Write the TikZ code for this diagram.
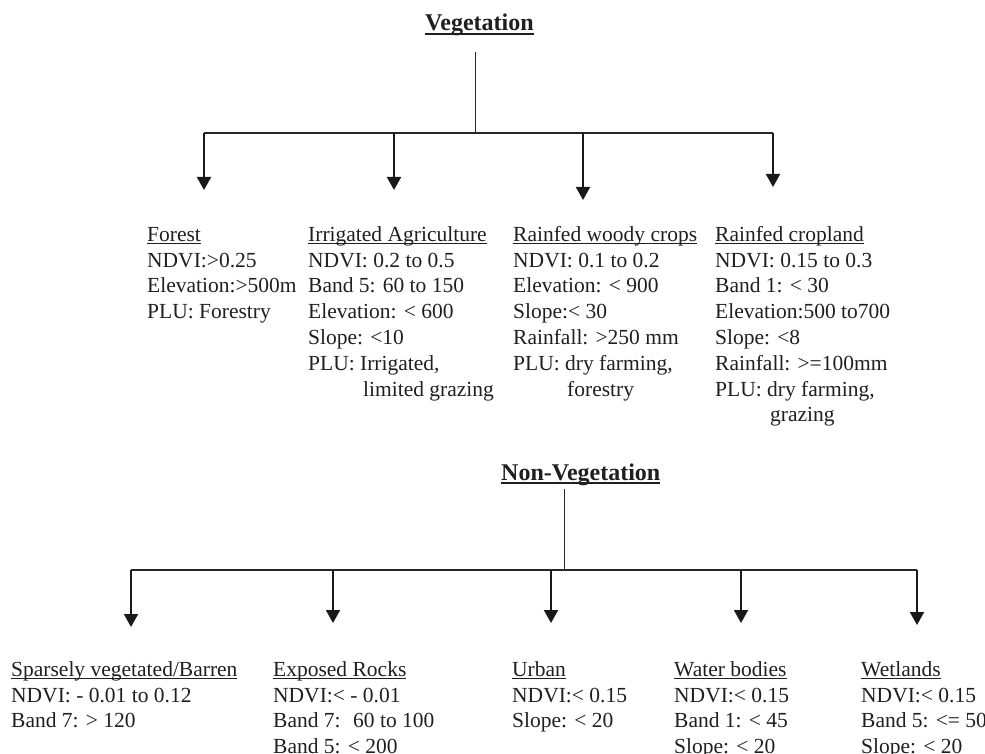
\documentclass[tikz,border=0pt]{standalone}
\usepackage{fontspec}
\setmainfont{Liberation Serif}
\usetikzlibrary{arrows.meta}
\newcommand\ulbody[1]{\setbox0\hbox{#1}\rlap{\rule[-3.2pt]{\wd0}{1.2pt}}\box0}
\newcommand\ultitle[1]{\setbox0\hbox{#1}\rlap{\rule[-3.6pt]{\wd0}{1.8pt}}\box0}
\newcommand\topstrut{\rule{0pt}{16pt}}
\begin{document}
\begin{tikzpicture}[x=1pt,y=-1pt,
  body/.style={anchor=north west,inner sep=0pt,align=left,text=black!88,
    font=\fontsize{21.5}{25.8}\selectfont},
  ttl/.style={anchor=base west,inner sep=0pt,text=black!88,
    font=\fontsize{24}{28}\selectfont\bfseries},
  trunk/.style={line width=1pt,draw=black!85},
  bar/.style={line width=1.4pt,draw=black!85},
  arr/.style={line width=2pt,draw=black!90,-{Triangle[width=14pt,length=13pt]}}]
\useasboundingbox (0,0) rectangle (985,754);
\clip (0,0) rectangle (985,754);

% ---------- Vegetation ----------
\node[ttl] (veg) at (425,31) {\ultitle{Vegetation}};
\coordinate (vtop) at (475,52);
\coordinate (vj) at (475,133);
\coordinate (vl) at (204,133);
\coordinate (vr) at (773,133);
\coordinate (va1) at (204,190);
\coordinate (va2) at (394,190);
\coordinate (va3) at (583,200);
\coordinate (va4) at (773,187);
\draw[trunk] (vtop) -- (vj);
\draw[bar] (vl) -- (vr);
\draw[arr] (vl) -- (va1);
\draw[arr] (394,133) -- (va2);
\draw[arr] (583,133) -- (va3);
\draw[arr] (vr) -- (va4);

\node[body] (forest) at (147,225) {\topstrut\ulbody{Forest}\\NDVI:>0.25\\Elevation:>500m\\PLU: Forestry};
\node[body] (irr) at (308,225) {\topstrut\ulbody{Irrigated Agriculture}\\NDVI: 0.2 to 0.5\\Band 5: 60 to 150\\Elevation: < 600\\Slope: <10\\PLU: Irrigated,\\\hspace*{55pt}limited grazing};
\node[body] (woody) at (513,225) {\topstrut\ulbody{Rainfed woody crops}\\NDVI: 0.1 to 0.2\\Elevation: < 900\\Slope:< 30\\Rainfall: >250 mm\\PLU: dry farming,\\\hspace*{54pt}forestry};
\node[body] (crop) at (715,225) {\topstrut\ulbody{Rainfed cropland}\\NDVI: 0.15 to 0.3\\Band 1: < 30\\Elevation:500 to700\\Slope: <8\\Rainfall: >=100mm\\PLU: dry farming,\\\hspace*{55pt}grazing};

% ---------- Non-Vegetation ----------
\node[ttl] (nveg) at (501,480) {\ultitle{Non-Vegetation}};
\coordinate (ntop) at (564,489);
\coordinate (nj) at (564,570);
\coordinate (nl) at (131,570);
\coordinate (nr) at (917,570);
\coordinate (na1) at (131,627);
\coordinate (na2) at (333,623);
\coordinate (na3) at (551,623);
\coordinate (na4) at (741,623);
\coordinate (na5) at (917,625);
\draw[trunk] (ntop) -- (nj);
\draw[bar] (nl) -- (nr);
\draw[arr] (nl) -- (na1);
\draw[arr] (333,570) -- (na2);
\draw[arr] (551,570) -- (na3);
\draw[arr] (741,570) -- (na4);
\draw[arr] (nr) -- (na5);

\node[body] (sparse) at (11,660) {\topstrut\ulbody{Sparsely vegetated/Barren}\\NDVI: - 0.01 to 0.12\\Band 7: > 120};
\node[body] (rocks) at (273,660) {\topstrut\ulbody{Exposed Rocks}\\NDVI:< - 0.01\\Band 7: \ 60 to 100\\Band 5: < 200};
\node[body] (urban) at (512,660) {\topstrut\ulbody{Urban}\\NDVI:< 0.15\\Slope: < 20};
\node[body] (water) at (674,660) {\topstrut\ulbody{Water bodies}\\NDVI:< 0.15\\Band 1: < 45\\Slope: < 20};
\node[body] (wet) at (861,660) {\topstrut\ulbody{Wetlands}\\NDVI:< 0.15\\Band 5: <= 50\\Slope: < 20};
\end{tikzpicture}
\end{document}
